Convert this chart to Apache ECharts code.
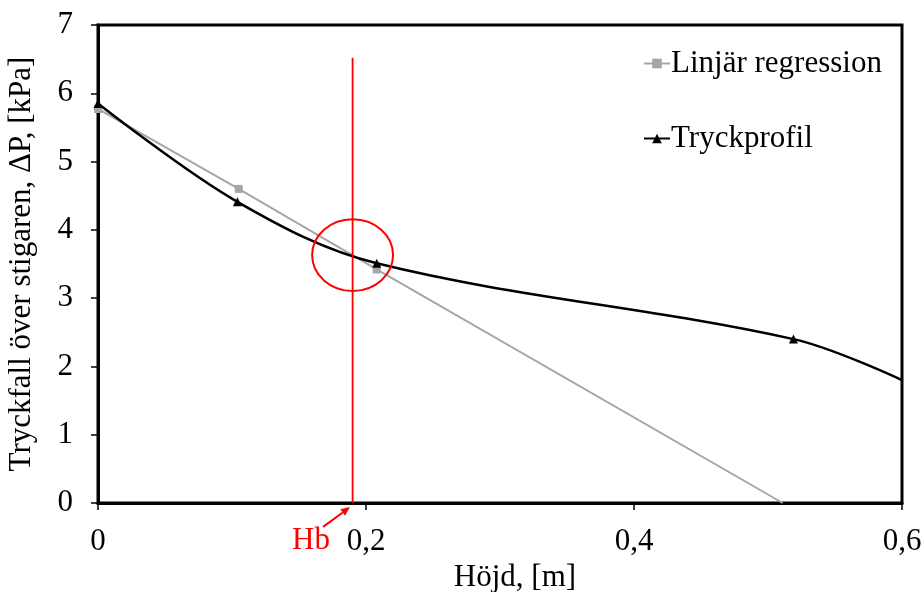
<!DOCTYPE html>
<html>
<head>
<meta charset="utf-8">
<script src="https://cdn.jsdelivr.net/npm/echarts@6/dist/echarts.min.js"></script>
<style>html,body{margin:0;padding:0;background:#fff}#c{width:924px;height:592px}</style>
</head>
<body>
<div id="c"></div>
<script>
var regressionData = [[0, 5.77], [0.105, 4.6], [0.208, 3.42], [0.511, 0]];
var profileData = [[0, 5.85], [0.104, 4.41], [0.208, 3.51], [0.519, 2.4], [0.6, 1.8]];
var hbX = 0.19;
var hbLineTop = 6.52;
var circleCenter = [0.19, 3.63];
var circleRadius = [0.0302, 0.527];
var arrowData = [[0.168, -0.35, 0.188, -0.06]];
var hbLabelPos = [[0.159, -0.55]];
var xTicks = [0, 0.2, 0.4, 0.6];
var yTicks = [0, 1, 2, 3, 4, 5, 6, 7];

var FONT = '"Liberation Serif", "Times New Roman", serif';
var FS = 31;
var chart = echarts.init(document.getElementById('c'), null, {renderer: 'canvas'});

function lastNoSymbol(arr) {
  return arr.map(function (p, i) {
    return i === arr.length - 1 ? {value: p, symbol: 'none'} : p;
  });
}

var option = {
  animation: false,
  backgroundColor: '#fff',
  grid: {left: 98, right: 22, top: 25, bottom: 89, show: true, borderColor: '#000', borderWidth: 3,
    containLabel: false, outerBoundsMode: 'none'},
  legend: {
    orient: 'vertical', left: 638, top: 43, itemGap: 44,
    itemWidth: 26, itemHeight: 12,
    data: ['Linjär regression', 'Tryckprofil'],
    textStyle: {fontFamily: FONT, fontSize: FS, color: '#000', padding: [0, 0, 0, -4]}
  },
  xAxis: {
    type: 'value', min: 0, max: 0.6, interval: 0.2,
    name: 'Höjd, [m]', nameLocation: 'middle', nameGap: 57,
    nameTextStyle: {fontFamily: FONT, fontSize: FS, color: '#000', padding: [0, 0, 0, 30]},
    axisLine: {show: true, lineStyle: {color: '#000', width: 3}},
    axisTick: {show: true, inside: false, length: 7, lineStyle: {color: '#000', width: 1.5}},
    axisLabel: {fontFamily: FONT, fontSize: FS, color: '#000', margin: 23,
      formatter: function (v) { return String(+v.toFixed(1)).replace('.', ','); }},
    splitLine: {show: false}
  },
  yAxis: {
    type: 'value', min: 0, max: 7, interval: 1,
    name: 'Tryckfall över stigaren, ΔP, [kPa]', nameLocation: 'middle', nameGap: 61,
    nameTextStyle: {fontFamily: FONT, fontSize: FS, color: '#000'},
    axisLine: {show: true, lineStyle: {color: '#000', width: 3}},
    axisTick: {show: true, inside: false, length: 7, lineStyle: {color: '#000', width: 1.5}},
    axisLabel: {fontFamily: FONT, fontSize: FS, color: '#000', margin: 25},
    splitLine: {show: false}
  },
  series: [
    {
      name: 'Linjär regression', type: 'line',
      data: lastNoSymbol(regressionData),
      symbol: 'rect', symbolSize: 8, showAllSymbol: true,
      lineStyle: {color: '#a6a6a6', width: 2},
      itemStyle: {color: '#a6a6a6'},
      z: 3
    },
    {
      name: 'Tryckprofil', type: 'line',
      data: lastNoSymbol(profileData),
      symbol: 'triangle', symbolSize: 9, smooth: 0.35,
      lineStyle: {color: '#000', width: 2.5},
      itemStyle: {color: '#000'},
      z: 4
    },
    {
      name: 'Hb-linje', type: 'line',
      data: [[hbX, 0], [hbX, hbLineTop]],
      symbol: 'none', silent: true,
      lineStyle: {color: '#ff0000', width: 1.8},
      z: 5
    },
    {
      name: 'Cirkel', type: 'custom', silent: true, clip: false, z: 6,
      data: [[circleCenter[0], circleCenter[1], circleRadius[0], circleRadius[1]]],
      renderItem: function (params, api) {
        var c = api.coord([api.value(0), api.value(1)]);
        var s = api.size([api.value(2), api.value(3)]);
        return {type: 'ellipse', shape: {cx: c[0], cy: c[1], rx: s[0], ry: s[1]},
          style: {fill: null, stroke: '#ff0000', lineWidth: 2}};
      }
    },
    {
      name: 'Pil', type: 'custom', silent: true, clip: false, z: 6,
      data: arrowData,
      encode: {x: [0, 2], y: [1, 3]},
      renderItem: function (params, api) {
        var a = api.coord([api.value(0), api.value(1)]);
        var b = api.coord([api.value(2), api.value(3)]);
        var ang = Math.atan2(b[1] - a[1], b[0] - a[0]);
        var L = 9, W = 4;
        var bx = b[0] - L * Math.cos(ang), by = b[1] - L * Math.sin(ang);
        var px = -Math.sin(ang) * W, py = Math.cos(ang) * W;
        return {type: 'group', children: [
          {type: 'line', shape: {x1: a[0], y1: a[1], x2: bx, y2: by}, style: {stroke: '#ff0000', lineWidth: 2}},
          {type: 'polygon', shape: {points: [[b[0], b[1]], [bx + px, by + py], [bx - px, by - py]]}, style: {fill: '#ff0000'}}
        ]};
      }
    },
    {
      name: 'Hb', type: 'custom', silent: true, clip: false, z: 6,
      data: hbLabelPos,
      renderItem: function (params, api) {
        var c = api.coord([api.value(0), api.value(1)]);
        return {type: 'text', x: c[0], y: c[1],
          style: {text: 'Hb', fill: '#ff0000', font: FS + 'px ' + FONT, align: 'center', verticalAlign: 'middle'}};
      }
    }
  ]
};
chart.setOption(option);
</script>
</body>
</html>
